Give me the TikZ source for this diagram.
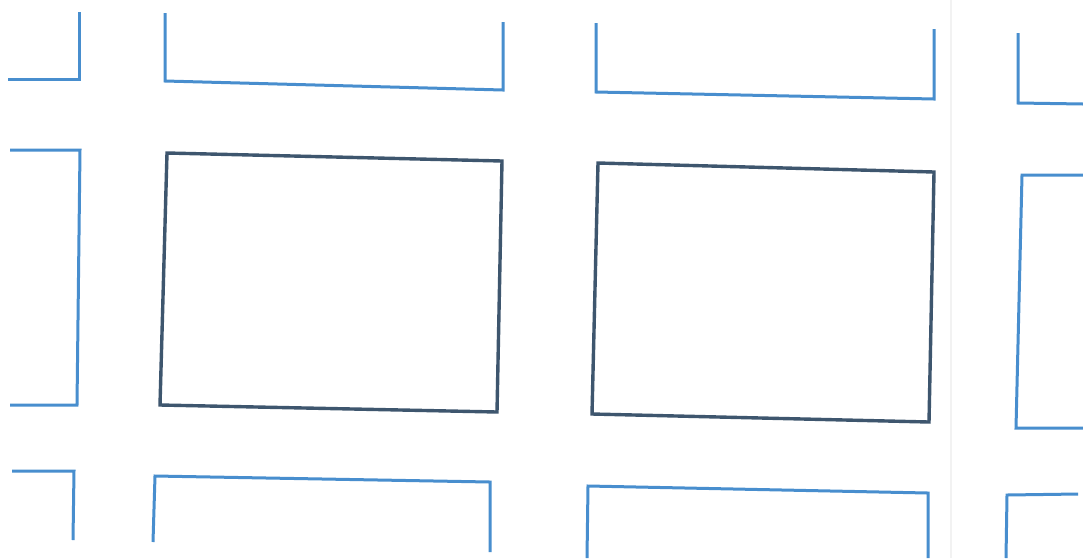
\documentclass[tikz,border=0pt]{standalone}
\definecolor{lineblue}{RGB}{72,142,206}
\definecolor{slate}{RGB}{62,86,110}
\begin{document}
\begin{tikzpicture}[x=1pt,y=-1pt,
  bluewall/.style={draw=lineblue,line width=3pt,line join=miter},
  darkbox/.style={draw=slate,line width=3.4pt,line join=miter},
  fold/.style={draw=black!5,line width=1.5pt}]
\fill[white] (0,0) rectangle (1083,558);
\useasboundingbox (0,0) rectangle (1083,558);
% faint fold
\draw[fold] (951,0) -- (951,558);
% top row
\draw[bluewall] (8,79) -- (79,79) -- (79,12);
\draw[bluewall] (165,13) -- (165,81) -- (503,90) -- (503,22);
\draw[bluewall] (596,23) -- (596,92) -- (934,99) -- (934,29);
\draw[bluewall] (1018,33) -- (1018,103) -- (1083,104);
% middle row
\draw[bluewall] (10,150) -- (80,150) -- (77,405) -- (10,405);
\draw[darkbox] (167,153) -- (502,161) -- (497,412) -- (160,405) -- cycle;
\draw[darkbox] (598,163) -- (934,172) -- (929,422) -- (592,414) -- cycle;
\draw[bluewall] (1083,175) -- (1022,175) -- (1016,428) -- (1083,428);
% bottom row
\draw[bluewall] (12,471) -- (74,471) -- (73,540);
\draw[bluewall] (153,542) -- (155,476) -- (490,482) -- (490,552);
\draw[bluewall] (587,558) -- (588,486) -- (928,493) -- (928,558);
\draw[bluewall] (1006,558) -- (1007,495) -- (1078,494);
\end{tikzpicture}
\end{document}
